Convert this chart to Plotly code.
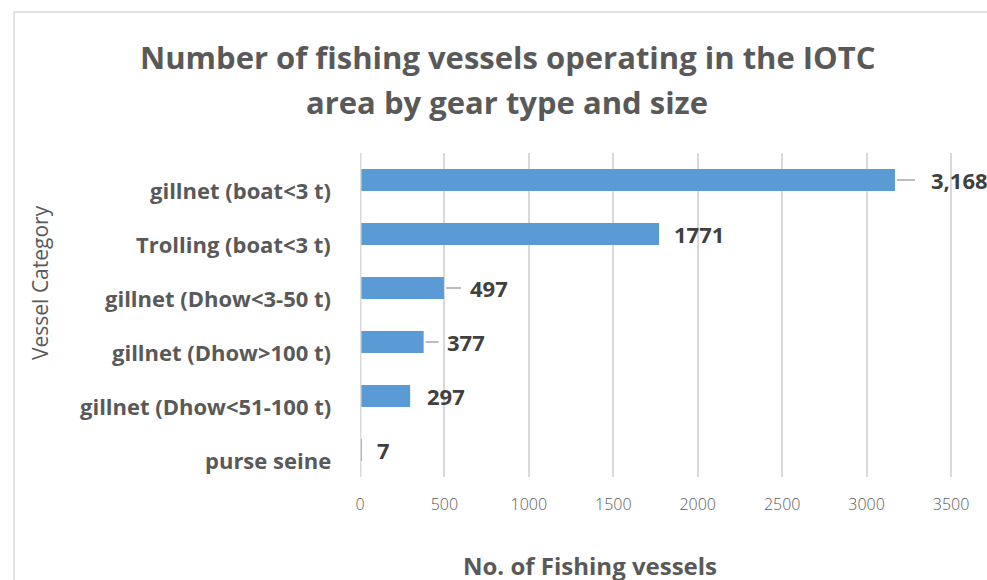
import plotly.graph_objects as go

# Vessel categories (top to bottom) and counts
categories = [
    "gillnet (boat<3 t)",
    "Trolling (boat<3 t)",
    "gillnet (Dhow<3-50 t)",
    "gillnet (Dhow>100 t)",
    "gillnet (Dhow<51-100 t)",
    "purse seine",
]
vessels = [3168, 1771, 497, 377, 297, 7]
label_formats = ["{:,}", "{}", "{}", "{}", "{}", "{}"]
x_ticks = [0, 500, 1000, 1500, 2000, 2500, 3000, 3500]
title_lines = ["Number of fishing vessels operating in the IOTC", "area by gear type and size"]

# Label styling: pixel gap between bar end and text, and leader line length
label_gaps = [34, 13, 24, 21, 15, 14]
leader_lengths = [18, 0, 15, 13, 0, 0]

BAR = "#5b9bd5"
TXT = "#595959"
DARK = "#404040"
GRID = "#d9d9d9"
FONT = "Open Sans"

# plot area in figure pixels
W, H = 987, 580
L, T, B = 360, 153, 477
PW, PH = W - L, B - T


def px(x):
    return (x - L) / PW


def py(y):
    return (B - y) / PH


fig = go.Figure(
    go.Bar(
        x=vessels,
        y=categories,
        orientation="h",
        marker=dict(color=BAR, line=dict(width=0)),
        hoverinfo="x+y",
    )
)

annotations = []
shapes = []

# value labels with optional leader lines
for cat, v, fmt, gap, lead in zip(categories, vessels, label_formats, label_gaps, leader_lengths):
    annotations.append(dict(
        x=v, y=cat, xref="x", yref="y", text=fmt.format(v),
        showarrow=False, xanchor="left", yanchor="middle", xshift=gap,
        font=dict(family=FONT, size=22, color=DARK, weight="bold"),
    ))
    if lead:
        shapes.append(dict(
            type="line", xref="x", yref="y", xsizemode="pixel", xanchor=v,
            x0=2, x1=2 + lead, y0=cat, y1=cat,
            line=dict(color="#a6a6a6", width=1.5), layer="above",
        ))

# category labels
for cat in categories:
    annotations.append(dict(
        x=0, y=cat, xref="paper", yref="y", text=cat, showarrow=False,
        xanchor="right", yanchor="middle", xshift=-27, yshift=-10,
        font=dict(family=FONT, size=22, color=TXT, weight="bold"),
    ))

# two-line chart title
for line, ypix in zip(title_lines, [57, 102]):
    annotations.append(dict(
        x=px(507), y=py(ypix), xref="paper", yref="paper", text=line,
        showarrow=False, xanchor="center", yanchor="middle",
        font=dict(family=FONT, size=31, color=TXT, weight="bold"),
    ))

# axis titles
annotations.append(dict(
    x=px(590), y=py(565), xref="paper", yref="paper", text="No. of Fishing vessels",
    showarrow=False, xanchor="center", yanchor="middle",
    font=dict(family=FONT, size=24, color=TXT, weight="bold"),
))
annotations.append(dict(
    x=px(40), y=py(283), xref="paper", yref="paper", text="Vessel Category",
    showarrow=False, xanchor="center", yanchor="middle", textangle=-90,
    font=dict(family=FONT, size=21, color=TXT),
))

# value axis baseline drawn over the bars
shapes.append(dict(
    type="line", xref="x", yref="paper", x0=0, x1=0, y0=0, y1=1,
    line=dict(color=GRID, width=3), layer="above",
))

# chart border
shapes.append(dict(
    type="rect", xref="paper", yref="paper", x0=px(14), x1=px(1100), y0=py(700), y1=py(12),
    line=dict(color=GRID, width=1.5), layer="below",
))

fig.update_layout(
    width=W, height=H,
    margin=dict(l=L, r=0, t=T, b=H - B),
    paper_bgcolor="white", plot_bgcolor="white",
    bargap=0.59,
    showlegend=False,
    annotations=annotations,
    shapes=shapes,
    xaxis=dict(
        range=[0, 3713], tickvals=x_ticks, ticktext=[str(t) for t in x_ticks],
        showgrid=True, gridcolor=GRID, gridwidth=1.5,
        zeroline=False, showline=False, ticks="", ticklabelstandoff=16,
        tickfont=dict(family=FONT, size=16, color=TXT, weight=300),
    ),
    yaxis=dict(
        categoryorder="array", categoryarray=categories, autorange="reversed",
        showticklabels=False, showgrid=False, zeroline=False, showline=False, ticks="",
    ),
)

fig.write_html("out.html")
